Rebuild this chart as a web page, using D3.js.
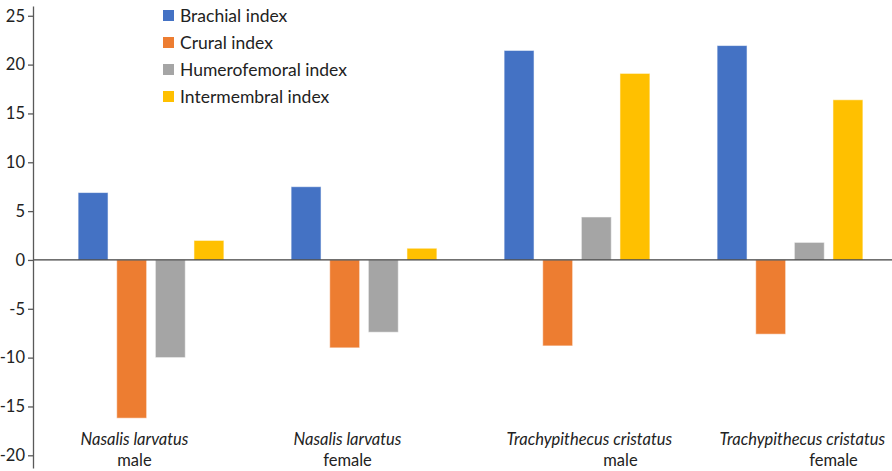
<!DOCTYPE html>
<html>
<head>
<meta charset="utf-8">
<script src="https://cdn.jsdelivr.net/npm/d3@7"></script>
<style>
  body { margin: 0; background: #fff; }
  svg text { font-family: Lato, "Open Sans", sans-serif; fill: #222; }
</style>
</head>
<body>
<svg width="892" height="471"></svg>
<script>
const svg = d3.select("svg");

// dados
const especies = ["Nasalis larvatus", "Nasalis larvatus", "Trachypithecus cristatus", "Trachypithecus cristatus"];
const sexos = ["male", "female", "male", "female"];
const indices = ["Brachial index", "Crural index", "Humerofemoral index", "Intermembral index"];
const braquial = [6.9, 7.5, 21.45, 21.95];
const crural = [-16.2, -9.0, -8.8, -7.6];
const umerofemoral = [-10.0, -7.4, 4.4, 1.8];
const intermembral = [2.0, 1.2, 19.1, 16.4];
const ticksY = [-20, -15, -10, -5, 0, 5, 10, 15, 20, 25];
const cores = ["#4472C4", "#ED7D31", "#A5A5A5", "#FFC000"];

const series = [braquial, crural, umerofemoral, intermembral];
const categorias = especies.map((e, i) => i);

const eixoX = 33;                 // posição do eixo vertical
const esq = 44.5, dir = 896.5;    // faixa das categorias
const topo = 6, base = 468;

const x0 = d3.scaleBand().domain(categorias).range([esq, dir]);
const x1 = d3.scaleBand().domain(indices).range([0, x0.bandwidth()])
    .paddingInner(0.225).paddingOuter(0.87);
const y = d3.scaleLinear().domain([-21.3, 26]).range([base, topo]);
const cor = d3.scaleOrdinal().domain(indices).range(cores);

// barras
const grupos = svg.append('g').selectAll('g')
  .data(categorias)
  .join('g')
    .attr('transform', c => `translate(${x0(c)},0)`);

grupos.selectAll('rect')
  .data(c => indices.map((nome, k) => ({nome, valor: series[k][c]})))
  .join('rect')
    .attr('x', d => x1(d.nome))
    .attr('width', x1.bandwidth())
    .attr('y', d => y(Math.max(0, d.valor)))
    .attr('height', d => Math.abs(y(d.valor) - y(0)))
    .attr('fill', d => cor(d.nome))
    .attr('stroke', 'rgba(255,255,255,0.55)')
    .attr('stroke-width', 1);

// linha do zero
svg.append('line')
  .attr('x1', eixoX).attr('x2', 892)
  .attr('y1', y(0)).attr('y2', y(0))
  .attr('stroke', '#404040').attr('stroke-width', 1.3);

// eixo y
const eixoY = svg.append('g')
  .attr('transform', `translate(${eixoX},0)`)
  .call(d3.axisLeft(y).tickValues(ticksY).tickFormat(d => String(d))
    .tickSize(5).tickSizeOuter(0).tickPadding(3));
eixoY.select('.domain').attr('stroke', '#595959').attr('stroke-width', 1.3);
eixoY.selectAll('.tick line').attr('stroke', '#595959').attr('stroke-width', 1.3);
eixoY.selectAll('.tick text')
  .style('font-family', 'Lato, "Open Sans", sans-serif')
  .style('font-size', '16.5px')
  .attr('fill', '#222');

// rótulos das categorias
const rotulos = svg.append('g').selectAll('g')
  .data(categorias)
  .join('g');

rotulos.each(function(c) {
  const g = d3.select(this);
  const inicio = x0(c) + 36;
  g.append('text')
    .attr('x', inicio)
    .attr('y', 445)
    .style('font-size', '16.5px')
    .style('font-style', 'italic')
    .text(especies[c]);
  g.append('text')
    .attr('x', inicio + (especies[c].length > 20 ? 114 : 54))
    .attr('y', 466)
    .attr('text-anchor', 'middle')
    .style('font-size', '16.5px')
    .text(sexos[c]);
});

// legenda
const legenda = svg.append('g').attr('transform', 'translate(163,10)');
const itens = legenda.selectAll('g')
  .data(indices)
  .join('g')
    .attr('transform', (d, i) => `translate(0,${i * 27})`);
itens.append('rect')
  .attr('width', 11).attr('height', 11)
  .attr('fill', d => cor(d));
itens.append('text')
  .attr('x', 17).attr('y', 6)
  .attr('dy', '0.35em')
  .style('font-size', '17.5px')
  .text(d => d);
</script>
</body>
</html>
